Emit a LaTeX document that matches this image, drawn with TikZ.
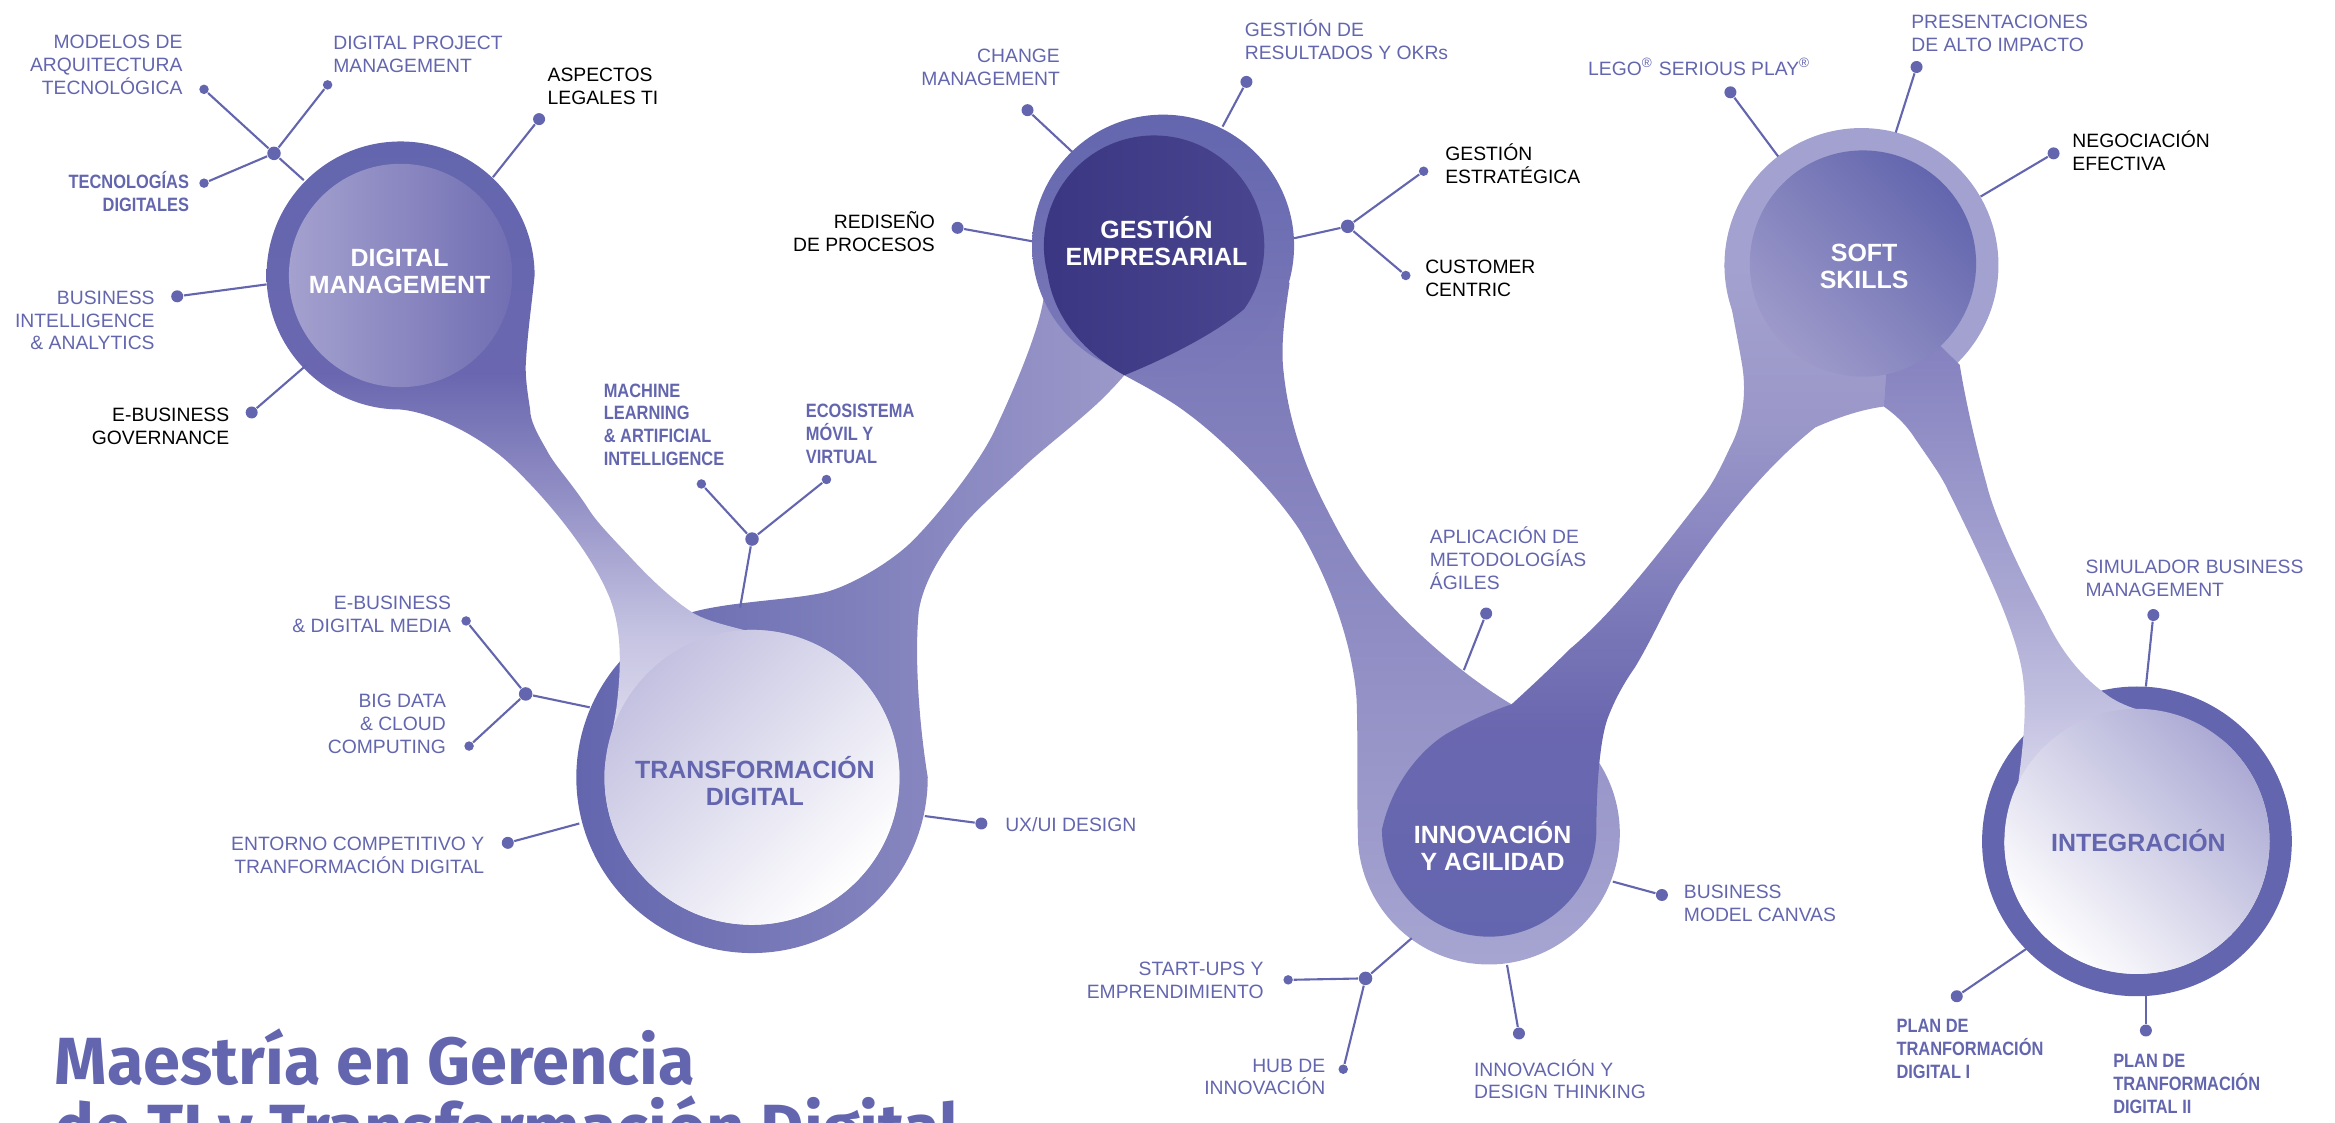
\documentclass[tikz,border=0pt]{standalone}
\usepackage{fontspec}
\setmainfont{Liberation Sans}
\newfontfamily\condfont{Liberation Sans}[FakeStretch=0.85]
\newfontfamily\titlefont{Fira Sans}

\definecolor{mauve}{HTML}{6366AE}
\definecolor{deepA}{HTML}{3A3681}
\definecolor{deepB}{HTML}{4A4690}
\definecolor{dmA}{HTML}{A4A1CF}
\definecolor{dmB}{HTML}{716EB3}
\definecolor{geB}{HTML}{7D7ABA}
\definecolor{gelegB}{HTML}{9B98C9}
\definecolor{gerA}{HTML}{7572B5}
\definecolor{gerB}{HTML}{A7A5D1}
\definecolor{ssA}{HTML}{A3A1CF}
\definecolor{ssB}{HTML}{9D9ACA}
\definecolor{tdA}{HTML}{C3C1E0}
\definecolor{intA}{HTML}{ACAAD4}
\definecolor{dmAA}{HTML}{6A67B0}
\definecolor{dmBB}{HTML}{7673B6}
\definecolor{dmC}{HTML}{918EC5}
\definecolor{dmD}{HTML}{C4C2E1}
\definecolor{dmE}{HTML}{E6E5F3}
\definecolor{inA}{HTML}{807DBC}
\definecolor{inB}{HTML}{8784C1}
\definecolor{inC}{HTML}{A9A7D2}
\definecolor{iaB}{HTML}{9B98C9}
\definecolor{iaC}{HTML}{8E8BC4}
\definecolor{iaD}{HTML}{7774B6}

\pgfdeclareverticalshading{dmdrop}{100bp}{color(0bp)=(white); color(25bp)=(white);
  color(34.6bp)=(dmE); color(44.1bp)=(dmD); color(52.7bp)=(dmC); color(57.9bp)=(dmBB);
  color(60.3bp)=(dmAA); color(75bp)=(mauve); color(100bp)=(mauve)}
\pgfdeclareverticalshading{intleg}{100bp}{color(0bp)=(white); color(25bp)=(white);
  color(35.4bp)=(dmE); color(44.2bp)=(dmD); color(53bp)=(inC); color(70bp)=(inB);
  color(75bp)=(inA); color(100bp)=(inA)}
\pgfdeclareverticalshading{ialeg}{100bp}{color(0bp)=(mauve); color(25bp)=(mauve);
  color(40.4bp)=(dmAA); color(47bp)=(iaD); color(57bp)=(iaC); color(63.7bp)=(iaB);
  color(75bp)=(ssA); color(100bp)=(ssA)}

\begin{document}
\begin{tikzpicture}[x=0.149mm, y=-0.149mm,
    every node/.style={inner sep=0pt, text=mauve},
    lbl/.style={font=\fontsize{5.5}{6.5}\selectfont},   % labels are placed by their last line
    lblk/.style={lbl, text=black},
    lblb/.style={font=\condfont\bfseries\fontsize{5.5}{6.5}\selectfont},
    hdr/.style={font=\bfseries\fontsize{7.1}{7.6}\selectfont, align=center, anchor=base},
    dot/.style={circle, fill=mauve, minimum size=1.2mm},
    sdot/.style={circle, fill=mauve, minimum size=0.95mm},
    hub/.style={circle, fill=mauve, minimum size=1.35mm},
    link/.style={draw=mauve, line width=0.6pt}]
  \useasboundingbox (0,0) rectangle (1568,754);
  \clip (0,0) rectangle (1568,754);

  % ribbon: right leg of gestion down to innovacion
  \shade[top color=gerA, bottom color=gerB]
    (800,170) -- (866,190)
    .. controls (862,215) and (860,235) .. (862,250)
    .. controls (864,270) and (870,300) .. (888,336)
    .. controls (900,360) and (910,378) .. (925,396)
    .. controls (945,420) and (980,452) .. (1015,473)
    arc[start angle=-80, end angle=175, radius=88]
    .. controls (911,540) and (912,500) .. (911,470)
    .. controls (909,440) and (898,400) .. (874,358)
    .. controls (860,335) and (825,298) .. (798,278)
    .. controls (785,268) and (768,259) .. (755,252) -- cycle;

  % transformacion ring and its leg up to gestion
  \shade[left color=mauve, right color=gelegB]
    (623,522) arc[start angle=0, end angle=250, radius=118]
    .. controls (490,404) and (530,403) .. (553,398)
    .. controls (570,394) and (598,378) .. (613,363)
    .. controls (628,348) and (655,315) .. (667,291)
    .. controls (678,268) and (697,225) .. (700.7,201)
    -- (740,200) -- (755,252)
    .. controls (750,258) and (745,263) .. (739,269)
    .. controls (722,285) and (702,300) .. (688,313)
    .. controls (670,330) and (652,345) .. (643,358)
    .. controls (630,375) and (620,392) .. (617,410)
    .. controls (614,440) and (617,485) .. (623,522) -- cycle;

  % digital management drop
  \shade[shading=dmdrop]
    (359,185) arc[start angle=0, end angle=-270, radius=90]
    .. controls (290,277) and (322,292) .. (344,313)
    .. controls (368,336) and (398,372) .. (410,403)
    .. controls (418,425) and (417,450) .. (414,475)
    .. controls (411,495) and (407,507) .. (406.2,515.1)
    arc[start angle=184, end angle=-93, radius=99]
    .. controls (488,420) and (475,417) .. (466,412)
    .. controls (452,403) and (438,390) .. (425,376)
    .. controls (410,360) and (400,350) .. (394,340)
    .. controls (382,322) and (372,312) .. (367,302)
    .. controls (360,290) and (356,282) .. (356,275)
    .. controls (354,262) and (353,255) .. (353,246)
    .. controls (354,225) and (357,205) .. (359,185) -- cycle;
  \shade[top color=tdA, bottom color=white, shading angle=45] (505,522) circle[radius=99];
  \shade[left color=dmA, right color=dmB] (269,185) circle[radius=75];

  % gestion empresarial
  \shade[top color=mauve, bottom color=geB] (781,165) circle[radius=88];
  \shade[left color=deepA, right color=deepB]
    (703.5,184.2) .. controls (708,215) and (730,238) .. (755,252)
    .. controls (780,242) and (815,225) .. (835.6,207.4)
    arc[start angle=35, end angle=-195, radius=74] -- cycle;

  % integracion ring, soft skills drop
  \fill[mauve] (1435,565) circle[radius=104];
  \fill[ssA] (1250,178) circle[radius=92];
  \shade[shading=intleg]
    (1265,273)
    .. controls (1275,280) and (1281,287) .. (1285,293)
    .. controls (1293,305) and (1300,314) .. (1306,325)
    .. controls (1316,345) and (1338,390) .. (1347,414)
    .. controls (1355,435) and (1358,448) .. (1359,460)
    .. controls (1361,480) and (1358,505) .. (1355,528)
    .. controls (1352,545) and (1348,556) .. (1346,565)
    arc[start angle=180, end angle=-50, radius=89]
    .. controls (1475,488) and (1455,482) .. (1437,477)
    .. controls (1427,474) and (1419,470) .. (1414,466)
    .. controls (1400,456) and (1385,440) .. (1373,414)
    .. controls (1360,390) and (1340,350) .. (1334,325)
    .. controls (1327,300) and (1320,270) .. (1316,245)
    -- (1270,200) -- cycle;
  \shade[top color=intA, bottom color=white, shading angle=-45] (1435,565) circle[radius=89];
  \shade[shading=ialeg]
    (1015,473)
    .. controls (1000,478) and (985,485) .. (971,493)
    .. controls (955,503) and (935,525) .. (928,557)
    arc[start angle=180, end angle=0, radius=72]
    .. controls (1072,530) and (1074,500) .. (1079,484)
    .. controls (1084,470) and (1091,458) .. (1098,448)
    .. controls (1110,428) and (1120,405) .. (1128,392)
    .. controls (1150,360) and (1180,318) .. (1219,287)
    .. controls (1235,280) and (1250,275) .. (1265,273)
    -- (1270,200) -- (1158,178)
    .. controls (1161,200) and (1166,222) .. (1170,246)
    .. controls (1173,265) and (1170,285) .. (1162,300)
    .. controls (1155,315) and (1150,325) .. (1143,334)
    .. controls (1115,370) and (1085,410) .. (1054,436)
    .. controls (1040,450) and (1027,462) .. (1015,473) -- cycle;
  \shade[top color=mauve, bottom color=ssB, shading angle=-45] (1251,177) circle[radius=76];

  % ring ends of the connectors
  \coordinate (cA) at (204,121);
  \coordinate (cAsp) at (331,119);
  \coordinate (cBi) at (179,191);
  \coordinate (cEbg) at (206,245);
  \coordinate (cB) at (396,475);
  \coordinate (cEnt) at (389,553);
  \coordinate (cUx) at (621,548);
  \coordinate (cC) at (497,408);
  \coordinate (cChange) at (720,102);
  \coordinate (cGdr) at (821,85);
  \coordinate (cRedis) at (693,162);
  \coordinate (cD) at (869,160);
  \coordinate (cLego) at (1194,105);
  \coordinate (cPres) at (1273,89);
  \coordinate (cNeg) at (1330,132);
  \coordinate (cAplic) at (983,450);
  \coordinate (cBmc) at (1083,592);
  \coordinate (cE) at (948,630);
  \coordinate (cIdt) at (1012,648);
  \coordinate (cSim) at (1441,461);
  \coordinate (cPlan1) at (1361,637);
  \coordinate (cPlan2) at (1441,668);

  % dots
  \node[hub] (hA) at (184,103) {};
  \node[sdot] (dModelos) at (137,60) {};
  \node[sdot] (dDpm) at (220,57) {};
  \node[sdot] (dTecno) at (137,123) {};
  \node[dot] (dAsp) at (362,80) {};
  \node[dot] (dBi) at (119,199) {};
  \node[dot] (dEbg) at (169,277) {};
  \node[hub] (hB) at (353,466) {};
  \node[sdot] (dEbdm) at (313,417) {};
  \node[sdot] (dBig) at (315,501) {};
  \node[dot] (dEnt) at (341,566) {};
  \node[dot] (dUx) at (659,553) {};
  \node[hub] (hC) at (505,362) {};
  \node[sdot] (dMach) at (471,325) {};
  \node[sdot] (dEco) at (555,322) {};
  \node[dot] (dChange) at (690,74) {};
  \node[dot] (dGdr) at (837,55) {};
  \node[dot] (dRedis) at (643,153) {};
  \node[hub] (hD) at (905,152) {};
  \node[sdot] (dGestr) at (956,115) {};
  \node[sdot] (dCust) at (944,185) {};
  \node[dot] (dLego) at (1162,62) {};
  \node[dot] (dPres) at (1287,45) {};
  \node[dot] (dNeg) at (1379,103) {};
  \node[dot] (dAplic) at (998,412) {};
  \node[dot] (dBmc) at (1116,601) {};
  \node[hub] (hE) at (917,657) {};
  \node[sdot] (dStart) at (865,658) {};
  \node[sdot] (dHub) at (902,718) {};
  \node[dot] (dIdt) at (1020,694) {};
  \node[dot] (dSim) at (1446,413) {};
  \node[dot] (dPlan1) at (1314,669) {};
  \node[dot] (dPlan2) at (1441,692) {};

  % connectors
  \draw[link] (hA) -- (dModelos);
  \draw[link] (hA) -- (dDpm);
  \draw[link] (hA) -- (dTecno);
  \draw[link] (hA) -- (cA);
  \draw[link] (dAsp) -- (cAsp);
  \draw[link] (dBi) -- (cBi);
  \draw[link] (dEbg) -- (cEbg);
  \draw[link] (hB) -- (dEbdm);
  \draw[link] (hB) -- (dBig);
  \draw[link] (hB) -- (cB);
  \draw[link] (dEnt) -- (cEnt);
  \draw[link] (dUx) -- (cUx);
  \draw[link] (hC) -- (dMach);
  \draw[link] (hC) -- (dEco);
  \draw[link] (hC) -- (cC);
  \draw[link] (dChange) -- (cChange);
  \draw[link] (dGdr) -- (cGdr);
  \draw[link] (dRedis) -- (cRedis);
  \draw[link] (hD) -- (cD);
  \draw[link] (hD) -- (dGestr);
  \draw[link] (hD) -- (dCust);
  \draw[link] (dLego) -- (cLego);
  \draw[link] (dPres) -- (cPres);
  \draw[link] (dNeg) -- (cNeg);
  \draw[link] (dAplic) -- (cAplic);
  \draw[link] (dBmc) -- (cBmc);
  \draw[link] (hE) -- (cE);
  \draw[link] (hE) -- (dStart);
  \draw[link] (hE) -- (dHub);
  \draw[link] (dIdt) -- (cIdt);
  \draw[link] (dSim) -- (cSim);
  \draw[link] (dPlan1) -- (cPlan1);
  \draw[link] (dPlan2) -- (cPlan2);

  % labels
  \node[lbl, align=right, anchor=base east] (modelos) at (123,63.4) {MODELOS DE\\ARQUITECTURA\\TECNOLÓGICA};
  \node[lbl, align=left, anchor=base west] (dpm) at (223.4,48.5) {DIGITAL PROJECT\\MANAGEMENT};
  \node[lblk, align=left, anchor=base west] (asp) at (367.3,70.3) {ASPECTOS\\LEGALES TI};
  \node[lblb, align=right, anchor=base east] (tecno) at (127.4,141.9) {TECNOLOGÍAS\\DIGITALES};
  \node[lbl, align=right, anchor=base east] (bi) at (104.3,235) {BUSINESS\\INTELLIGENCE\\\& ANALYTICS};
  \node[lblk, align=right, anchor=base east] (ebg) at (154.4,298.6) {E-BUSINESS\\GOVERNANCE};
  \node[hdr, text=white] (dm) at (268.3,197) {DIGITAL\\MANAGEMENT};

  \node[lblb, align=left, anchor=base west] (mach) at (405,312.7) {MACHINE\\LEARNING\\\& ARTIFICIAL\\INTELLIGENCE};
  \node[lblb, align=left, anchor=base west] (eco) at (540.7,311) {ECOSISTEMA\\MÓVIL Y\\VIRTUAL};
  \node[lbl, align=right, anchor=base east] (ebdm) at (303.3,424.8) {E-BUSINESS\\\& DIGITAL MEDIA};
  \node[lbl, align=right, anchor=base east] (big) at (299.9,506) {BIG DATA\\\& CLOUD\\COMPUTING};
  \node[lbl, align=right, anchor=base east] (ent) at (325.6,586.6) {ENTORNO COMPETITIVO Y\\TRANFORMACIÓN DIGITAL};
  \node[hdr] (td) at (506.9,540.6) {TRANSFORMACIÓN\\DIGITAL};
  \node[lbl, anchor=base west] (ux) at (674.6,558.5) {UX/UI DESIGN};

  \node[lbl, align=right, anchor=base east] (change) at (712.2,57.1) {CHANGE\\MANAGEMENT};
  \node[lbl, align=left, anchor=base west] (gdr) at (835.5,39.8) {GESTIÓN DE\\RESULTADOS Y OKRs};
  \node[lblk, align=right, anchor=base east] (redis) at (628.2,169) {REDISEÑO\\DE PROCESOS};
  \node[hdr, text=white] (ge) at (776.6,178.4) {GESTIÓN\\EMPRESARIAL};
  \node[lblk, align=left, anchor=base west] (gestr) at (970.1,123.1) {GESTIÓN\\ESTRATÉGICA};
  \node[lblk, align=left, anchor=base west] (cust) at (956.6,199.2) {CUSTOMER\\CENTRIC};

  \node[lbl, align=left, anchor=base west] (aplic) at (959.7,395.8) {APLICACIÓN DE\\METODOLOGÍAS\\ÁGILES};
  \node[hdr, text=white] (ia) at (1002.3,584.4) {INNOVACIÓN\\Y AGILIDAD};
  \node[lbl, align=left, anchor=base west] (bmc) at (1130.3,619) {BUSINESS\\MODEL CANVAS};
  \node[lbl, align=right, anchor=base east] (start) at (849,670.5) {START-UPS Y\\EMPRENDIMIENTO};
  \node[lbl, align=right, anchor=base east] (hubde) at (890.4,735.3) {HUB DE\\INNOVACIÓN};
  \node[lbl, align=left, anchor=base west] (idt) at (989.4,738) {INNOVACIÓN Y\\DESIGN THINKING};

  \node[lbl, anchor=base west] (lego) at (1066,50.4) {LEGO\textsuperscript{®} SERIOUS PLAY\textsuperscript{®}};
  \node[lbl, align=left, anchor=base west] (pres) at (1283,34.3) {PRESENTACIONES\\DE ALTO IMPACTO};
  \node[lblk, align=left, anchor=base west] (neg) at (1391.2,114.2) {NEGOCIACIÓN\\EFECTIVA};
  \node[hdr, text=white] (ss) at (1251.8,193.6) {SOFT\\SKILLS};

  \node[lbl, align=left, anchor=base west] (sim) at (1400,400.7) {SIMULADOR BUSINESS\\MANAGEMENT};
  \node[hdr] (int) at (1436,571.5) {INTEGRACIÓN};
  \node[lblb, align=left, anchor=base west] (plan1) at (1273.1,724.2) {PLAN DE\\TRANFORMACIÓN\\DIGITAL I};
  \node[lblb, align=left, anchor=base west] (plan2) at (1418.6,747.6) {PLAN DE\\TRANFORMACIÓN\\DIGITAL II};

  \node[font=\titlefont\bfseries\fontsize{19}{19}\selectfont, align=left, anchor=base west]
    (title) at (36.3,773) {Maestría en Gerencia\\de TI y Transformación Digital};
\end{tikzpicture}
\end{document}
